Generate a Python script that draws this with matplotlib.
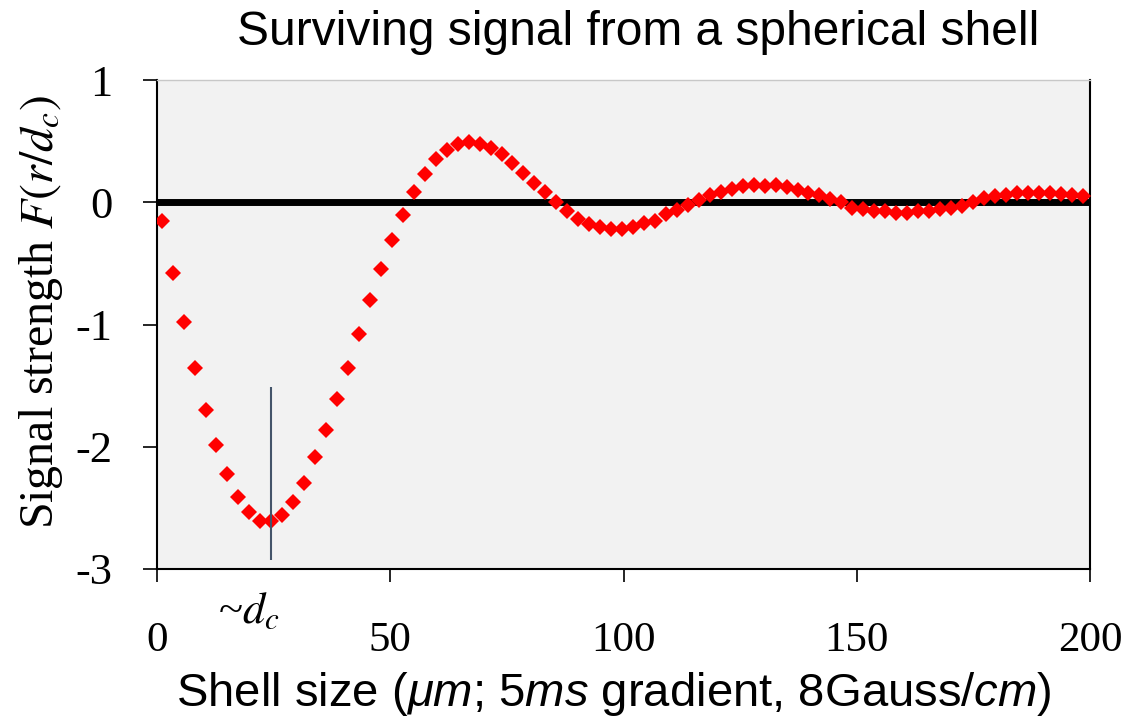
import matplotlib
matplotlib.use("Agg")
import matplotlib.pyplot as plt

# ---- data ----
shell_size = [1.0, 3.35, 5.7, 8.05, 10.4, 12.75, 15.1, 17.45, 19.8, 22.15,
              24.5, 26.85, 29.2, 31.55, 33.9, 36.25, 38.6, 40.95, 43.3, 45.65,
              48.0, 50.35, 52.7, 55.05, 57.4, 59.75, 62.1, 64.45, 66.8, 69.15,
              71.5, 73.85, 76.2, 78.55, 80.9, 83.25, 85.6, 87.95, 90.3, 92.65,
              95.0, 97.35, 99.7, 102.05, 104.4, 106.75, 109.1, 111.45, 113.8, 116.15,
              118.5, 120.85, 123.2, 125.55, 127.9, 130.25, 132.6, 134.95, 137.3, 139.65,
              142.0, 144.35, 146.7, 149.05, 151.4, 153.75, 156.1, 158.45, 160.8, 163.15,
              165.5, 167.85, 170.2, 172.55, 174.9, 177.25, 179.6, 181.95, 184.3, 186.65,
              189.0, 191.35, 193.7, 196.05, 198.4]
signal = [-0.153, -0.582, -0.978, -1.355, -1.697, -1.989, -2.224, -2.41, -2.535, -2.607,
          -2.607, -2.557, -2.448, -2.295, -2.087, -1.866, -1.612, -1.355, -1.079, -0.803,
          -0.549, -0.306, -0.104, 0.08, 0.235, 0.35, 0.425, 0.475, 0.49, 0.478,
          0.44, 0.395, 0.325, 0.24, 0.16, 0.08, 0.0, -0.071, -0.139, -0.175,
          -0.202, -0.222, -0.222, -0.202, -0.17, -0.15, -0.10, -0.067, -0.02, 0.02,
          0.06, 0.08, 0.11, 0.13, 0.14, 0.135, 0.138, 0.125, 0.10, 0.078,
          0.06, 0.03, 0.0, -0.045, -0.058, -0.072, -0.075, -0.088, -0.088, -0.075,
          -0.068, -0.055, -0.045, -0.028, 0.005, 0.035, 0.05, 0.062, 0.072, 0.074,
          0.074, 0.072, 0.068, 0.062, 0.05]
x_ticks = [0, 50, 100, 150, 200]
y_ticks = [-3, -2, -1, 0, 1]
dc_value = 24.4          # ~d_c marker position
dc_line_span = (-2.93, -1.51)

plt.rcParams['axes.unicode_minus'] = False
plt.rcParams['mathtext.fontset'] = 'custom'
plt.rcParams['mathtext.rm'] = 'Liberation Sans'
plt.rcParams['mathtext.it'] = 'Liberation Sans:italic'

serif = 'Liberation Serif'
sans = 'Liberation Sans'

fig = plt.figure(figsize=(11.22, 7.2), dpi=100)
ax = fig.add_axes([157/1122, 1-569/720, (1090-157)/1122, (569-80)/720])
ax.set_facecolor('#f2f2f2')

ax.axhline(0, color='black', lw=5, solid_capstyle='projecting', zorder=2)
ax.plot(shell_size, signal, linestyle='none', marker='D', markersize=8.5,
        color='#ff0000', markeredgewidth=0, zorder=3)
ax.vlines(dc_value, dc_line_span[0], dc_line_span[1], color='#44546a', lw=1.5, zorder=4)

ax.set_xlim(0, 200)
ax.set_ylim(-3, 1)
ax.set_xticks(x_ticks)
ax.set_yticks(y_ticks)
ax.set_xticklabels([str(v) for v in x_ticks], fontfamily=serif, fontsize=31)
ax.set_yticklabels([str(v) for v in y_ticks], fontfamily=serif, fontsize=32)
ax.tick_params(axis='x', direction='out', length=9, width=1.2, pad=29)
ax.tick_params(axis='y', direction='out', length=10, width=1.2, pad=22)

for s in ['left', 'bottom', 'right']:
    ax.spines[s].set_color('black')
    ax.spines[s].set_linewidth(1.5)
ax.spines['top'].set_color('#c8c8c8')
ax.spines['top'].set_linewidth(1.0)

ax.set_ylabel(r'Signal strength $F(r/d_c)$', fontfamily=serif, fontsize=34.5,
              math_fontfamily='stix')
ax.yaxis.set_label_coords((65-157)/933, (569-312)/489)

ax.set_xlabel(r'Shell size ($\mathit{\mu m}$; 5$\mathit{ms}$ gradient, 8Gauss/$\mathit{cm}$)',
              fontfamily=sans, fontsize=34, va='baseline')
ax.xaxis.set_label_coords((614-157)/933, (569-706)/489)

fig.text(638/1122, 1-45/720, 'Surviving signal from a spherical shell',
         fontfamily=sans, fontsize=34.5, ha='center', va='baseline')

fig.text(249/1122, 1-623/720, r'~$d_c$', fontfamily=serif, fontsize=32,
         math_fontfamily='stix', ha='center', va='baseline')

fig.savefig('out.png', dpi=100)
